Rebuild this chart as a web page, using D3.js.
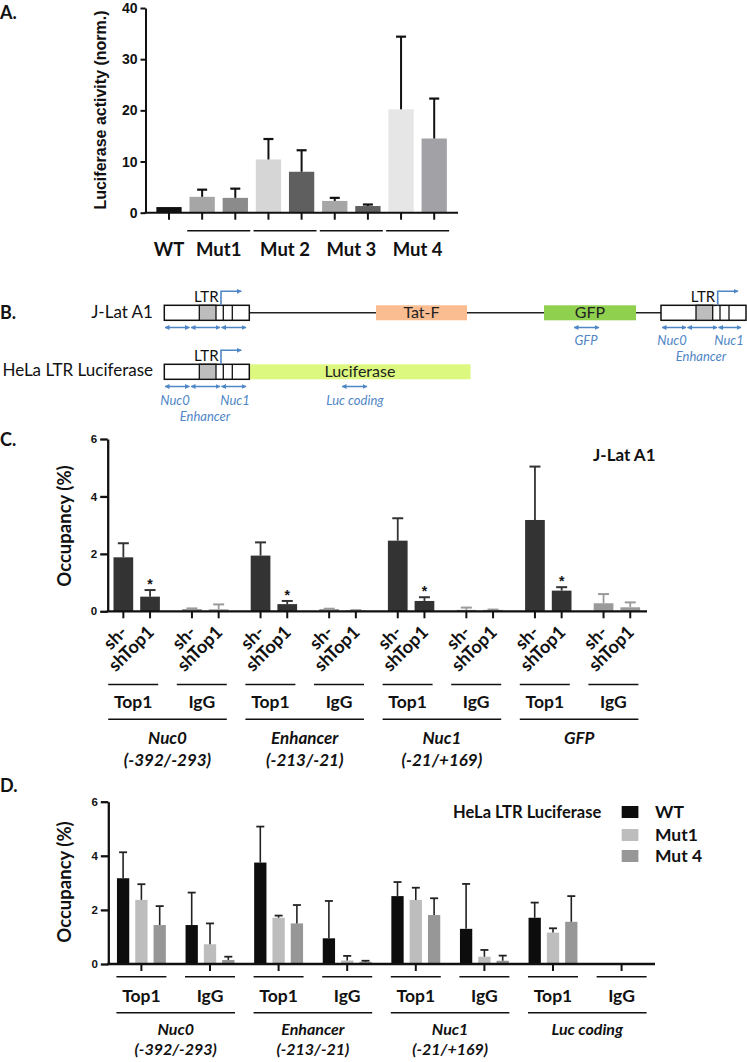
<!DOCTYPE html>
<html><head><meta charset="utf-8">
<script src="https://cdn.jsdelivr.net/npm/d3@7"></script>
<style>body{margin:0;background:#fff}svg{display:block}</style>
</head><body><svg id="c" width="747" height="1062"></svg>
<script>
// ---------- Panel A data ----------
const aCats = ['WT','Mut1-a','Mut1-b','Mut2-a','Mut2-b','Mut3-a','Mut3-b','Mut4-a','Mut4-b'];
const aMeans = [1.1, 3.1, 2.9, 10.4, 8.0, 2.3, 1.3, 20.2, 14.5];
const aErrTops = [null, 4.5, 4.7, 14.4, 12.2, 2.9, 1.6, 34.4, 22.3];
const aGroupLabels = ['WT','Mut1','Mut 2','Mut 3','Mut 4'];
const aGroupMembers = [[0],[1,2],[3,4],[5,6],[7,8]];
const aTicks = [0,10,20,30,40];
const aColors = ['#111111','#a6a6a6','#8b8b8b','#d6d6d6','#5f5f5f','#a6a6a6','#5f5f5f','#e6e6e6','#a2a2a6'];

// ---------- Panel C data ----------
const cRegions = ['Nuc0','Enhancer','Nuc1','GFP'];
const cRegionSub = ['(-392/-293)','(-213/-21)','(-21/+169)',''];
const cAntibodies = ['Top1','IgG'];
const cShRNA = ['sh-','shTop1'];
// order: region -> antibody -> shRNA
const cMeans = [1.88,0.51, 0.08,0.07, 1.94,0.25, 0.08,0.03, 2.46,0.36, 0.05,0.05, 3.18,0.72, 0.28,0.14];
const cErrTops = [2.37,0.74, 0.10,0.24, 2.40,0.36, 0.09,0.04, 3.24,0.49, 0.13,0.06, 5.04,0.84, 0.60,0.31];
const cStars = [false,true, false,false, false,true, false,false, false,true, false,false, false,true, false,false];
const cTicks = [0,2,4,6];

// ---------- Panel D data ----------
const dRegions = ['Nuc0','Enhancer','Nuc1','Luc coding'];
const dRegionSub = ['(-392/-293)','(-213/-21)','(-21/+169)',''];
const dAntibodies = ['Top1','IgG'];
const dSeries = ['WT','Mut1','Mut 4'];
const dWT      = [3.17,1.44, 3.75,0.95, 2.51,1.30, 1.71,0.01];
const dWTErr   = [4.13,2.64, 5.08,2.33, 3.03,2.96, 2.27,0.01];
const dMut1    = [2.37,0.73, 1.71,0.13, 2.37,0.27, 1.16,0.01];
const dMut1Err = [2.95,1.50, 1.79,0.30, 2.82,0.52, 1.32,0.01];
const dMut4    = [1.44,0.15, 1.50,0.08, 1.81,0.12, 1.56,0.01];
const dMut4Err = [2.14,0.27, 2.18,0.12, 2.43,0.31, 2.51,0.01];
const dColors = ['#0d0d0d','#bdbdbd','#979797'];
const dTicks = [0,2,4,6];

const svg = d3.select('#c');
const CAL = 'Lato, "Open Sans", sans-serif';
const ARI = '"Liberation Sans", Arial, sans-serif';

function txt(g, x, y, s, o) {
  o = o || {};
  const t = g.append('text').attr('x', x).attr('y', y).text(s)
    .attr('font-family', o.ff || CAL).attr('font-size', o.fs || 16)
    .attr('font-weight', o.fw || 400).attr('fill', o.fill || '#111')
    .attr('text-anchor', o.anchor || 'start');
  if (o.italic) t.attr('font-style', 'italic');
  if (o.transform) t.attr('transform', o.transform).attr('x', 0).attr('y', 0);
  return t;
}

function styleAxis(g, fs, sw) {
  g.select('.domain').attr('stroke', '#111').attr('stroke-width', sw);
  g.selectAll('.tick line').attr('stroke', '#111').attr('stroke-width', sw);
  g.selectAll('.tick text').attr('font-family', ARI).attr('font-weight', 700)
    .attr('font-size', fs).attr('fill', '#111');
}

// ================= Panel A =================
{
  const g = svg.append('g');
  txt(g, 0, 19, 'A.', {fw: 700, fs: 18});
  const yA = d3.scaleLinear().domain([0, 40]).range([212.7, 8]);
  const xA = d3.scalePoint().domain(aCats).range([169, 434.2]);
  const bw = 25.3;
  const ax = g.append('g').attr('transform', 'translate(145.5,0)')
    .call(d3.axisLeft(yA).tickValues(aTicks).tickFormat(d3.format('d')).tickSize(5).tickSizeOuter(0).tickPadding(3));
  styleAxis(ax, 14, 2);
  txt(g, 0, 0, 'Luciferase activity (norm.)', {fw: 700, fs: 16, ff: ARI, anchor: 'middle',
      transform: 'translate(106,110) rotate(-90)'});
  g.selectAll('rect.a').data(aCats).enter().append('rect')
    .attr('x', d => xA(d) - bw / 2).attr('width', bw)
    .attr('y', (d, i) => yA(aMeans[i])).attr('height', (d, i) => yA(0) - yA(aMeans[i]))
    .attr('fill', (d, i) => aColors[i]);
  aCats.forEach((c, i) => {
    if (aErrTops[i] == null) return;
    g.append('line').attr('x1', xA(c)).attr('x2', xA(c)).attr('y1', yA(aMeans[i])).attr('y2', yA(aErrTops[i]))
      .attr('stroke', '#111').attr('stroke-width', 2);
    g.append('line').attr('x1', xA(c) - 5).attr('x2', xA(c) + 5).attr('y1', yA(aErrTops[i])).attr('y2', yA(aErrTops[i]))
      .attr('stroke', '#111').attr('stroke-width', 2.2);
  });
  g.append('line').attr('x1', 144.5).attr('x2', 458).attr('y1', yA(0)).attr('y2', yA(0))
    .attr('stroke', '#111').attr('stroke-width', 2);
  aCats.forEach(c => g.append('line').attr('x1', xA(c)).attr('x2', xA(c)).attr('y1', yA(0)).attr('y2', yA(0) + 7)
    .attr('stroke', '#111').attr('stroke-width', 2));
  aGroupLabels.forEach((lab, k) => {
    const mem = aGroupMembers[k];
    const cx = d3.mean(mem, i => xA(aCats[i]));
    if (mem.length > 1) {
      g.append('line').attr('x1', cx - 31.5).attr('x2', cx + 31.5).attr('y1', 230.7).attr('y2', 230.7)
        .attr('stroke', '#111').attr('stroke-width', 1.5);
    }
    txt(g, cx, 255.5, lab, {fw: 700, fs: 18.5, anchor: 'middle'});
  });
}

// ================= Panel B (schematic) =================
{
  const g = svg.append('g');
  const blue = '#4f86c6';
  const defs = svg.append('defs');
  defs.append('marker').attr('id', 'ah').attr('viewBox', '0 0 10 10').attr('refX', 9).attr('refY', 5)
    .attr('markerWidth', 5).attr('markerHeight', 5).attr('orient', 'auto-start-reverse')
    .attr('markerUnits', 'userSpaceOnUse')
    .append('path').attr('d', 'M0,0 L10,5 L0,10 z').attr('fill', blue);
  txt(g, 0, 319, 'B.', {fw: 700, fs: 18});
  txt(g, 153, 318, 'J-Lat A1', {fs: 17, anchor: 'end'});
  txt(g, 153, 376, 'HeLa LTR Luciferase', {fs: 17, anchor: 'end'});

  const H = 15;
  g.append('line').attr('x1', 249).attr('x2', 661).attr('y1', 312.8).attr('y2', 312.8)
    .attr('stroke', '#222').attr('stroke-width', 1.5);
  function feature(x0, x1, y0, fill, label) {
    g.append('rect').attr('x', x0).attr('y', y0).attr('width', x1 - x0).attr('height', H).attr('fill', fill);
    txt(g, (x0 + x1) / 2, y0 + 12.5, label, {fs: 16, anchor: 'middle', fill: '#222'});
  }
  feature(376, 467, 305.3, '#f9bd91', 'Tat-F');
  feature(544, 636, 305.3, '#8fd14f', 'GFP');
  feature(249.3, 470.5, 364.3, '#dcf87e', 'Luciferase');

  function ltr(x0, y0) {
    g.append('rect').attr('x', x0).attr('y', y0).attr('width', 85).attr('height', H)
      .attr('fill', '#fff').attr('stroke', '#111').attr('stroke-width', 1.5);
    g.append('rect').attr('x', x0 + 35).attr('y', y0).attr('width', 16.7).attr('height', H)
      .attr('fill', '#bdbdbd').attr('stroke', '#111').attr('stroke-width', 1.3);
    [59, 68].forEach(dx => g.append('line').attr('x1', x0 + dx).attr('x2', x0 + dx)
      .attr('y1', y0).attr('y2', y0 + H).attr('stroke', '#111').attr('stroke-width', 1.3));
    txt(g, x0 + 42, y0 - 3, 'LTR', {fs: 15, anchor: 'middle'});
    g.append('path').attr('d', `M${x0 + 56.7},${y0} V${y0 - 14} H${x0 + 77}`)
      .attr('fill', 'none').attr('stroke', blue).attr('stroke-width', 1.6).attr('marker-end', 'url(#ah)');
  }
  ltr(164.3, 305.3);
  ltr(661, 305.3);
  ltr(164.3, 364.3);

  function dbl(x0, x1, y) {
    g.append('line').attr('x1', x0).attr('x2', x1).attr('y1', y).attr('y2', y)
      .attr('stroke', blue).attr('stroke-width', 1.5)
      .attr('marker-start', 'url(#ah)').attr('marker-end', 'url(#ah)');
  }
  [[165, 189.5], [191, 220], [221.5, 246]].forEach(s => { dbl(s[0], s[1], 327.5); dbl(s[0], s[1], 386.5); });
  [[662, 686], [687.5, 717], [718.5, 741]].forEach(s => dbl(s[0], s[1], 327.5));
  dbl(574, 599, 327.5);
  dbl(342, 367, 386.5);
  const bl = {fs: 13, italic: true, fill: blue, anchor: 'middle'};
  txt(g, 586, 345, 'GFP', bl);
  txt(g, 672, 345, 'Nuc0', bl);
  txt(g, 729, 345, 'Nuc1', bl);
  txt(g, 701, 361, 'Enhancer', bl);
  txt(g, 175, 405, 'Nuc0', bl);
  txt(g, 235, 405, 'Nuc1', bl);
  txt(g, 205, 421, 'Enhancer', bl);
  txt(g, 355, 405, 'Luc coding', bl);
}

// ================= Panel C =================
{
  const g = svg.append('g');
  txt(g, 0, 446, 'C.', {fw: 700, fs: 18});
  const yC = d3.scaleLinear().domain([0, 6]).range([611.3, 439]);
  const pairs = [];
  cRegions.forEach(r => cAntibodies.forEach(a => pairs.push(r + '|' + a)));
  const xP = d3.scalePoint().domain(pairs).range([136.7, 136.7 + 7 * 68.6]);
  const xS = d3.scalePoint().domain(cShRNA).range([-13.35, 13.35]);
  const bw = 19.7;
  const ax = g.append('g').attr('transform', 'translate(107.7,0)')
    .call(d3.axisLeft(yC).tickValues(cTicks).tickFormat(d3.format('d')).tickSize(7.5).tickSizeOuter(0).tickPadding(3));
  styleAxis(ax, 11.5, 2.3);
  txt(g, 0, 0, 'Occupancy (%)', {fw: 700, fs: 18.5, anchor: 'middle', transform: 'translate(71,526) rotate(-90)'});
  txt(g, 593, 461, 'J-Lat A1', {fw: 700, fs: 17});

  const bars = [];
  pairs.forEach((p, pi) => cShRNA.forEach((s, si) => {
    const i = pi * 2 + si;
    bars.push({p, s, ab: p.split('|')[1], v: cMeans[i], e: cErrTops[i], star: cStars[i]});
  }));
  const colOf = ab => ab === 'Top1' ? '#333333' : '#9a9a9a';
  bars.forEach(b => {
    const cx = xP(b.p) + xS(b.s);
    g.append('rect').attr('x', cx - bw / 2).attr('width', bw).attr('y', yC(b.v)).attr('height', yC(0) - yC(b.v))
      .attr('fill', colOf(b.ab));
    g.append('line').attr('x1', cx).attr('x2', cx).attr('y1', yC(b.v)).attr('y2', yC(b.e))
      .attr('stroke', colOf(b.ab)).attr('stroke-width', 1.8);
    g.append('line').attr('x1', cx - 5.5).attr('x2', cx + 5.5).attr('y1', yC(b.e)).attr('y2', yC(b.e))
      .attr('stroke', colOf(b.ab)).attr('stroke-width', 2);
    if (b.star) txt(g, cx, yC(b.e) - 1, '*', {ff: ARI, fw: 700, fs: 14, anchor: 'middle'});
    g.append('line').attr('x1', cx).attr('x2', cx).attr('y1', yC(0)).attr('y2', yC(0) + 7)
      .attr('stroke', '#111').attr('stroke-width', 2);
    txt(g, 0, 0, b.s, {fw: 700, fs: 18, anchor: 'end', transform: `translate(${cx + 5},${yC(0) + 22}) rotate(-45)`});
  });
  g.append('line').attr('x1', 106.6).attr('x2', 647).attr('y1', yC(0)).attr('y2', yC(0))
    .attr('stroke', '#111').attr('stroke-width', 2.3);
  pairs.forEach(p => {
    const cx = xP(p) - 3.5;
    g.append('line').attr('x1', cx - 25).attr('x2', cx + 25).attr('y1', 684.5).attr('y2', 684.5)
      .attr('stroke', '#111').attr('stroke-width', 1.5);
    txt(g, cx, 708, p.split('|')[1], {fw: 700, fs: 17.5, anchor: 'middle'});
  });
  cRegions.forEach((r, ri) => {
    const c0 = xP(r + '|Top1') - 3.5, c1 = xP(r + '|IgG') - 3.5;
    g.append('line').attr('x1', c0 - 25).attr('x2', c1 + 25).attr('y1', 719.3).attr('y2', 719.3)
      .attr('stroke', '#111').attr('stroke-width', 1.5);
    const cx = (c0 + c1) / 2;
    txt(g, cx, 744, r, {fw: 700, fs: 17, italic: true, anchor: 'middle'});
    if (cRegionSub[ri]) txt(g, cx, 766, cRegionSub[ri], {fw: 700, fs: 17, italic: true, anchor: 'middle'});
  });
}

// ================= Panel D =================
{
  const g = svg.append('g');
  txt(g, 0, 792, 'D.', {fw: 700, fs: 18});
  const yD = d3.scaleLinear().domain([0, 6]).range([964, 801.7]);
  const groups = [];
  dRegions.forEach(r => dAntibodies.forEach(a => groups.push(r + '|' + a)));
  const xG = d3.scalePoint().domain(groups).range([141.4, 141.4 + 7 * 68.6]);
  const xS = d3.scalePoint().domain(dSeries).range([-18.3, 18.3]);
  const bw = 12.3;
  const ax = g.append('g').attr('transform', 'translate(108.3,0)')
    .call(d3.axisLeft(yD).tickValues(dTicks).tickFormat(d3.format('d')).tickSize(7.5).tickSizeOuter(0).tickPadding(3));
  styleAxis(ax, 11.5, 2.3);
  txt(g, 0, 0, 'Occupancy (%)', {fw: 700, fs: 18.5, anchor: 'middle', transform: 'translate(71,882) rotate(-90)'});

  const vals = [dWT, dMut1, dMut4], errs = [dWTErr, dMut1Err, dMut4Err];
  groups.forEach((gk, gi) => {
    dSeries.forEach((s, si) => {
      const cx = xG(gk) + xS(s), v = vals[si][gi], e = errs[si][gi];
      g.append('rect').attr('x', cx - bw / 2).attr('width', bw).attr('y', yD(v)).attr('height', yD(0) - yD(v))
        .attr('fill', dColors[si]);
      if (e - v > 0.02) {
        g.append('line').attr('x1', cx).attr('x2', cx).attr('y1', yD(v)).attr('y2', yD(e))
          .attr('stroke', '#222').attr('stroke-width', 1.6);
        g.append('line').attr('x1', cx - 4).attr('x2', cx + 4).attr('y1', yD(e)).attr('y2', yD(e))
          .attr('stroke', '#222').attr('stroke-width', 1.8);
      }
    });
    g.append('line').attr('x1', xG(gk)).attr('x2', xG(gk)).attr('y1', yD(0)).attr('y2', yD(0) + 7)
      .attr('stroke', '#111').attr('stroke-width', 2);
    g.append('line').attr('x1', xG(gk) - 25).attr('x2', xG(gk) + 25).attr('y1', 976.7).attr('y2', 976.7)
      .attr('stroke', '#111').attr('stroke-width', 1.5);
    txt(g, xG(gk), 1002, gk.split('|')[1], {fw: 700, fs: 17.5, anchor: 'middle'});
  });
  g.append('line').attr('x1', 107.2).attr('x2', 655).attr('y1', yD(0)).attr('y2', yD(0))
    .attr('stroke', '#111').attr('stroke-width', 2.3);
  dRegions.forEach((r, ri) => {
    const c0 = xG(r + '|Top1'), c1 = xG(r + '|IgG');
    g.append('line').attr('x1', c0 - 25).attr('x2', c1 + 25).attr('y1', 1012.7).attr('y2', 1012.7)
      .attr('stroke', '#111').attr('stroke-width', 1.5);
    const cx = (c0 + c1) / 2;
    txt(g, cx, 1035, r, {fw: 700, fs: 16, italic: true, anchor: 'middle'});
    if (dRegionSub[ri]) txt(g, cx, 1054.5, dRegionSub[ri], {fw: 700, fs: 16, italic: true, anchor: 'middle'});
  });
  txt(g, 453, 818, 'HeLa LTR Luciferase', {fw: 700, fs: 16.5});
  dSeries.forEach((s, si) => {
    const cy = [812, 835, 856][si];
    g.append('rect').attr('x', 621.7).attr('y', cy - 6).attr('width', 16.7).attr('height', 12).attr('fill', dColors[si]);
    txt(g, 655, cy + 6, s, {fw: 700, fs: 17.5});
  });
}
</script></body></html>
